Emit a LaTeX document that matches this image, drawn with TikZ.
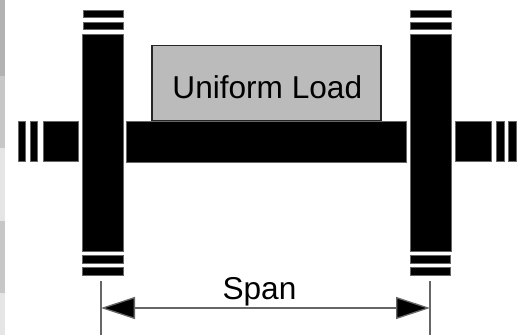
\documentclass[tikz,border=0pt]{standalone}
\usepackage{fontspec}
\setmainfont{Liberation Sans}
\usetikzlibrary{arrows.meta}
\definecolor{loadgray}{HTML}{BBBBBB}
\definecolor{dimgray}{HTML}{666666}
\tikzset{
solid part/.style={fill=black,draw=black!60!white,line width=.5pt},
dim line/.style={draw=dimgray,line width=1.3pt},
}
\begin{document}
\begin{tikzpicture}[x=1pt,y=-1pt,font=\fontsize{31.6}{32}\selectfont]
\useasboundingbox (0,0) rectangle (525,335);

% strip at the left edge
\fill[black!30] (0,0) rectangle (5.3,76);
\fill[black!22] (0,76) rectangle (5.3,148);
\fill[black!10] (0,148) rectangle (5.3,221);
\fill[black!22] (0,221) rectangle (5.3,293);
\fill[black!10] (0,293) rectangle (5.3,335);

% load
\draw[fill=loadgray,line width=1.3pt,draw=black!85] (152,45.5) rectangle (381,121);
\node[anchor=base] (load) at (267.3,98) {Uniform Load};

% beam
\draw[solid part] (126.5,121) rectangle (406.5,162);

% left support
\draw[solid part] (83,10) rectangle (123.5,17.5);
\draw[solid part] (83,22) rectangle (123.5,29.5);
\draw[solid part] (82.5,34.5) rectangle (123.5,251);
\draw[solid part] (82.5,255.5) rectangle (123,263);
\draw[solid part] (82.5,267) rectangle (123,275);
\draw[solid part] (18,121) rectangle (25.5,161);
\draw[solid part] (30,121) rectangle (37.5,161);
\draw[solid part] (43,121) rectangle (78.5,161);

% right support
\draw[solid part] (410.5,10) rectangle (451,17.5);
\draw[solid part] (410.5,22) rectangle (451,29.5);
\draw[solid part] (410,34.5) rectangle (451,251);
\draw[solid part] (410,255.5) rectangle (450,263);
\draw[solid part] (410,267) rectangle (450,275);
\draw[solid part] (455.5,121) rectangle (491,161);
\draw[solid part] (496.5,121) rectangle (504,161);
\draw[solid part] (508.5,121) rectangle (516,161);

% span
\coordinate (spana) at (101,308);
\coordinate (spanb) at (430,308);
\draw[dim line] (101,281) -- (101,335);
\draw[dim line] (430,281) -- (430,335);
\draw[dim line,{Triangle[length=34pt,width=22pt,fill=black]}-{Triangle[length=34pt,width=22pt,fill=black]}] (spana) -- (spanb);
\node[anchor=base] (span) at (259.5,299) {Span};

\end{tikzpicture}
\end{document}
